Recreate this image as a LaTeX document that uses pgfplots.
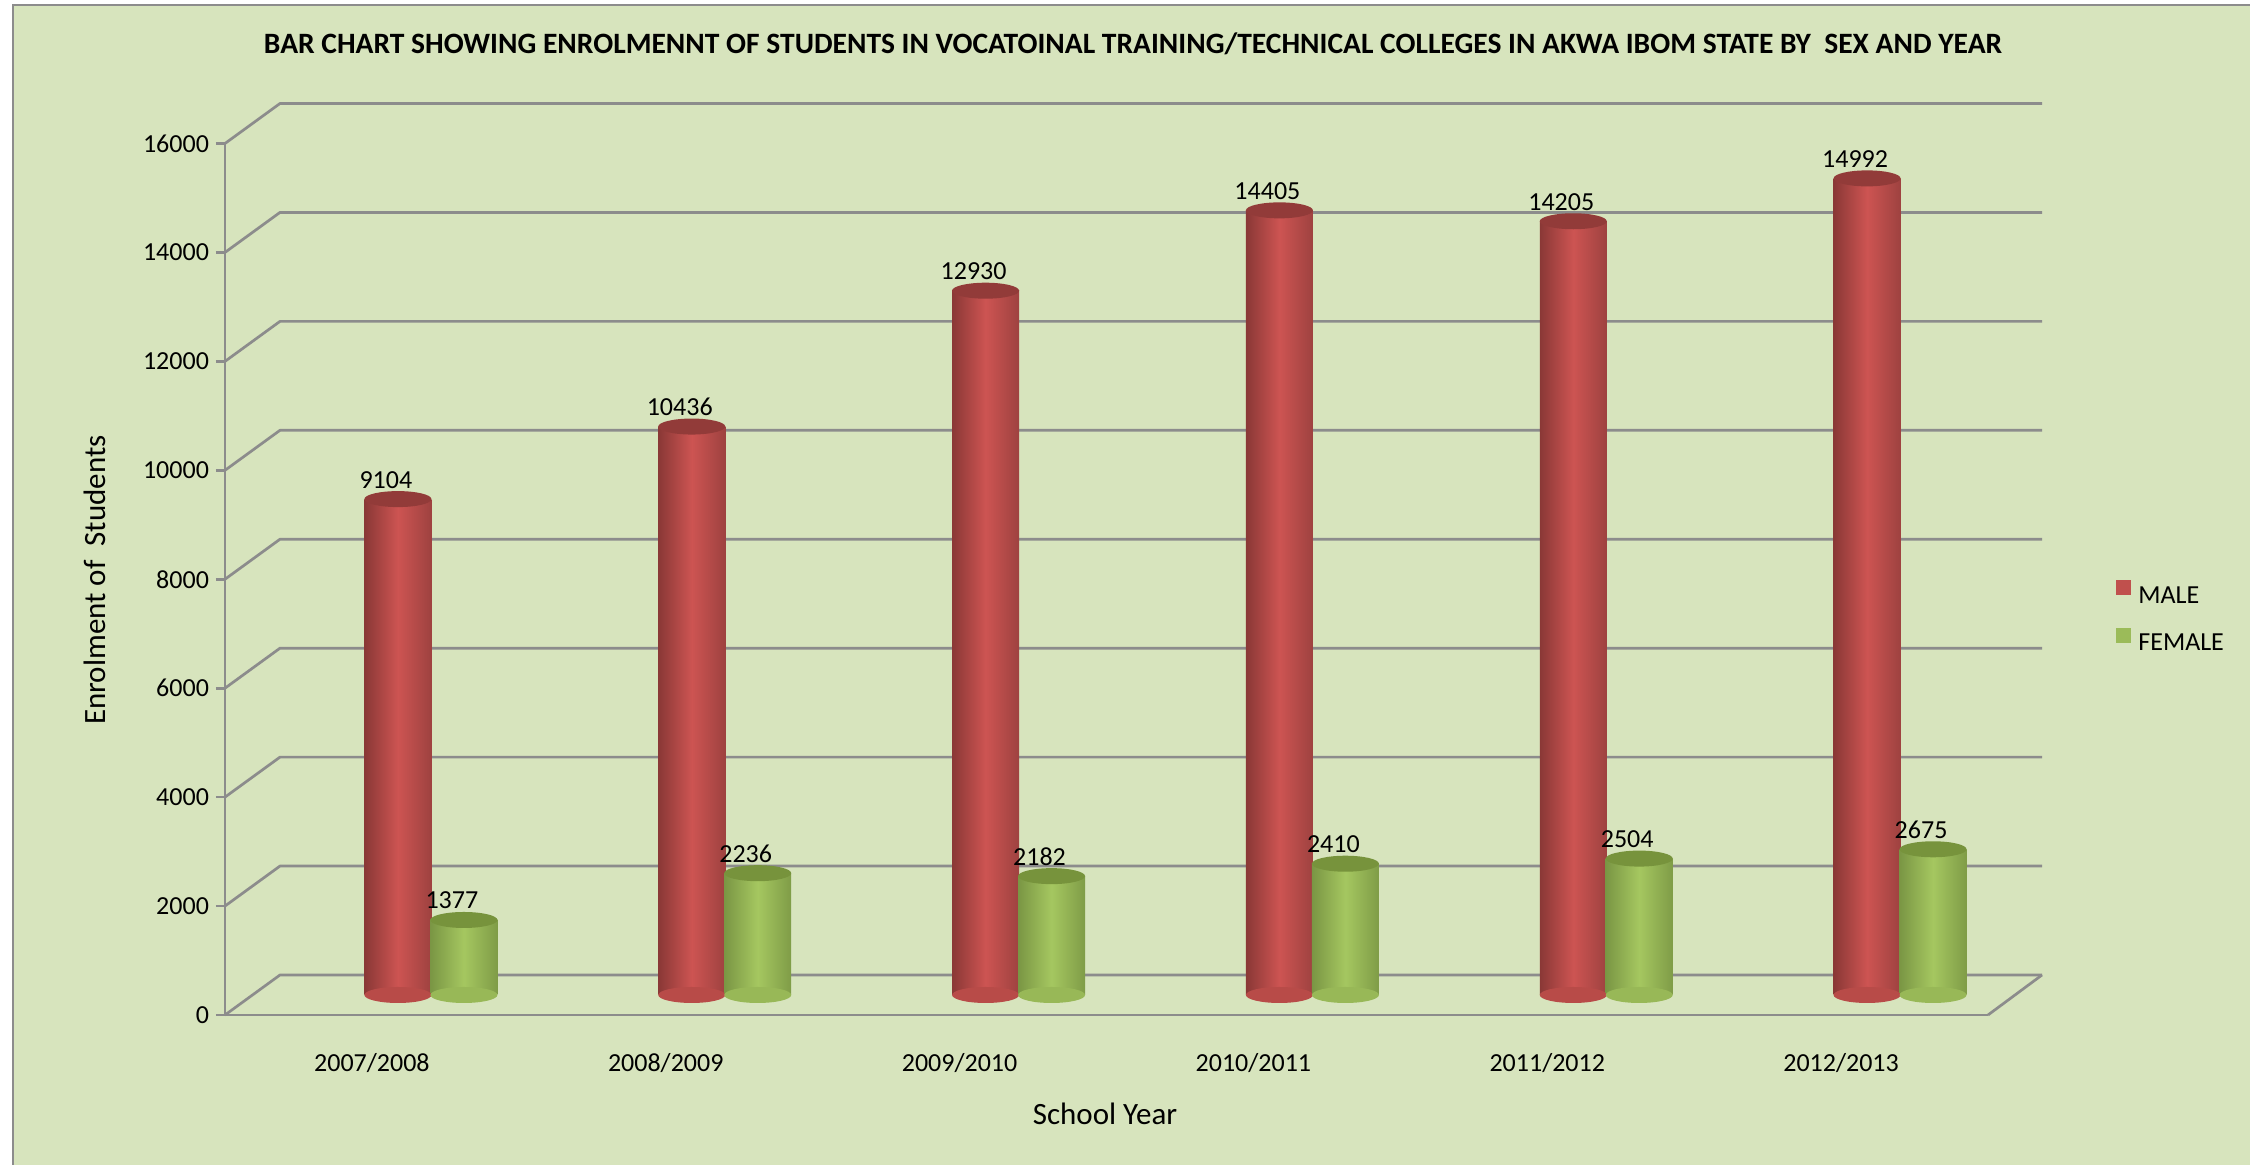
\documentclass[border=0pt]{standalone}
\usepackage{graphicx}
\usepackage{pgfplots}
\usepackage{pgfplotstable}
\pgfplotsset{compat=1.18}
\usepackage{fontspec}
\setmainfont{Carlito}

\definecolor{bg}{HTML}{D7E4BD}
\definecolor{gridc}{HTML}{8C8C8C}
\definecolor{maleL}{HTML}{8A3836}
\definecolor{maleM}{HTML}{CD5452}
\definecolor{maleR}{HTML}{9E4240}
\definecolor{maleT}{HTML}{923B39}
\definecolor{maleB}{HTML}{B84B48}
\definecolor{maleC}{HTML}{C0504D}
\definecolor{femL}{HTML}{7A9644}
\definecolor{femM}{HTML}{A5C760}
\definecolor{femR}{HTML}{7F9C47}
\definecolor{femT}{HTML}{77933C}
\definecolor{femB}{HTML}{98B857}
\definecolor{femC}{HTML}{9BBB59}

\pgfdeclareplotmark{topM}{\pgfsetfillcolor{maleT}\pgfpathellipse{\pgfpointorigin}{\pgfqpoint{16.75pt}{0pt}}{\pgfqpoint{0pt}{4pt}}\pgfusepathqfill}
\pgfdeclareplotmark{topF}{\pgfsetfillcolor{femT}\pgfpathellipse{\pgfpointorigin}{\pgfqpoint{16.75pt}{0pt}}{\pgfqpoint{0pt}{4pt}}\pgfusepathqfill}
\pgfdeclareplotmark{botM}{\pgfsetfillcolor{maleB}\pgfpathellipse{\pgfpointorigin}{\pgfqpoint{16.75pt}{0pt}}{\pgfqpoint{0pt}{4pt}}\pgfusepathqfill}
\pgfdeclareplotmark{botF}{\pgfsetfillcolor{femB}\pgfpathellipse{\pgfpointorigin}{\pgfqpoint{16.75pt}{0pt}}{\pgfqpoint{0pt}{4pt}}\pgfusepathqfill}

\pgfplotstableread{
xm      xf      zero  male   female
0.0885  0.313   0     9104   1377
1.0885  1.313   0     10436  2236
2.0885  2.313   0     12930  2182
3.0885  3.313   0     14405  2410
4.0885  4.313   0     14205  2504
5.0885  5.313   0     14992  2675
}\data

\pgfplotsset{
  mbar/.style={ybar, bar width=33.5pt, bar shift=0pt, draw=none,
    left color=maleL, right color=maleR, middle color=maleM},
  fbar/.style={ybar, bar width=33.5pt, bar shift=0pt, draw=none,
    left color=femL, right color=femR, middle color=femM},
}

\newcommand{\tfont}{\fontsize{13}{15.6}\selectfont}

\begin{document}
\begin{tikzpicture}[x=1pt,y=1pt]
\useasboundingbox (-112.5,-75) rectangle (1012.5,507.5);
\fill[white] (-112.5,-75) rectangle (1012.5,507.5);
\fill[bg] (-106,-75) rectangle (1012.5,505);
\draw[gridc, line width=1pt] (-106,-75) -- (-106,505) -- (1012.5,505);
\foreach \k in {0,1,...,8}{
  \pgfmathsetmacro\yy{\k*54.46875}
  \draw[gridc, line width=1.35pt, line join=round] (0,\yy) -- (27.5,\yy+20) -- (908.5,\yy+20);
}
\draw[gridc, line width=1.35pt, line join=round] (881.5,0) -- (908.5,20);

\begin{axis}[
  at={(0pt,0pt)}, anchor=south west,
  scale only axis, width=881.5pt, height=435.75pt,
  xmin=-0.5, xmax=5.5, ymin=0, ymax=16000,
  axis lines*=left,
  axis line style={gridc, line width=1.35pt},
  xtick={0,1,2,3,4,5},
  xticklabels={2007/2008,2008/2009,2009/2010,2010/2011,2011/2012,2012/2013},
  x tick style={draw=none},
  ytick={0,2000,4000,6000,8000,10000,12000,14000,16000},
  y tick style={gridc, line width=1.35pt},
  tick align=outside, major tick length=4.5pt,
  ticklabel style={font=\tfont, text=black},
  xticklabel style={anchor=base, yshift=-24pt},
  scaled y ticks=false,
  /pgf/number format/1000 sep={},
  /pgf/number format/assume math mode=true,
  clip=false,
]
\end{axis}

\begin{axis}[
  at={(0pt,10pt)}, anchor=south west,
  scale only axis, width=881.5pt, height=435.75pt,
  xmin=-0.5, xmax=5.5, ymin=0, ymax=16000,
  hide axis, clip=false,
  /pgf/number format/1000 sep={},
  /pgf/number format/assume math mode=true,
  nodes near coords style={font=\tfont, text=black, anchor=base, yshift=5.5pt, xshift=-6pt},
  legend style={at={(1.0726,0.4337)}, anchor=west, draw=none, fill=none,
    font=\tfont, inner sep=0pt, row sep=11pt, nodes={inner sep=0pt},
    /tikz/every odd column/.append style={column sep=3.5pt}},
  legend cell align=left,
]
\addplot[only marks, mark=botM, forget plot] table[x=xm, y=zero]{\data};
\addplot[mbar, legend image code/.code={\pgfpathrectangle{\pgfpoint{0pt}{0.5pt}}{\pgfpoint{7.5pt}{7.5pt}}\pgfsetfillcolor{maleC}\pgfusepath{fill}}] coordinates {(0.0885,9104)};
\addlegendentry{MALE}
\addplot[mbar, forget plot] coordinates {(1.0885,10436)};
\addplot[mbar, forget plot] coordinates {(2.0885,12930)};
\addplot[mbar, forget plot] coordinates {(3.0885,14405)};
\addplot[mbar, forget plot] coordinates {(4.0885,14205)};
\addplot[mbar, forget plot] coordinates {(5.0885,14992)};
\addplot[only marks, mark=topM, forget plot, nodes near coords] table[x=xm, y=male]{\data};

\addplot[only marks, mark=botF, forget plot] table[x=xf, y=zero]{\data};
\addplot[fbar, legend image code/.code={\pgfpathrectangle{\pgfpoint{0pt}{0.5pt}}{\pgfpoint{7.5pt}{7.5pt}}\pgfsetfillcolor{femC}\pgfusepath{fill}}] coordinates {(0.313,1377)};
\addlegendentry{FEMALE}
\addplot[fbar, forget plot] coordinates {(1.313,2236)};
\addplot[fbar, forget plot] coordinates {(2.313,2182)};
\addplot[fbar, forget plot] coordinates {(3.313,2410)};
\addplot[fbar, forget plot] coordinates {(4.313,2504)};
\addplot[fbar, forget plot] coordinates {(5.313,2675)};
\addplot[only marks, mark=topF, forget plot, nodes near coords] table[x=xf, y=female]{\data};
\end{axis}

\node[rotate=90, font=\fontsize{15.5}{18}\selectfont] at (-65,217.5) {Enrolment of\ \ Students};
\node[font=\fontsize{15.5}{18}\selectfont] at (440,-49.5) {School Year};
\node at (454,485.5) {\resizebox{869pt}{!}{\bfseries\fontsize{14}{17}\selectfont BAR CHART SHOWING ENROLMENNT OF STUDENTS IN VOCATOINAL TRAINING/TECHNICAL COLLEGES IN AKWA IBOM STATE BY\ \ SEX AND YEAR}};
\end{tikzpicture}
\end{document}
